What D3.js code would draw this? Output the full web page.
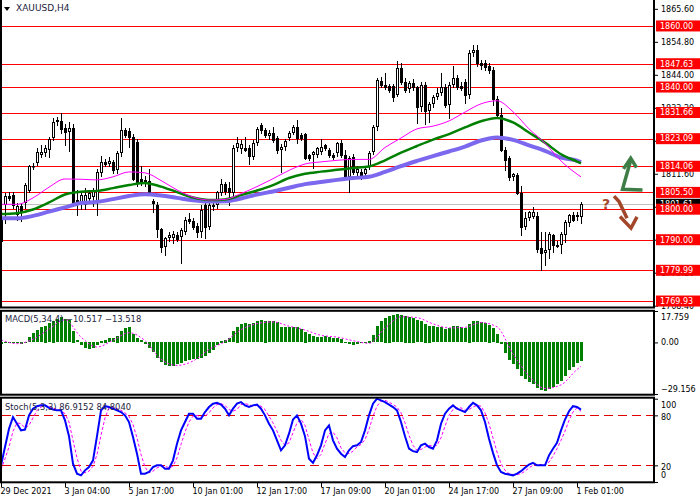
<html>
<head>
<meta charset="UTF-8"/>
<script src="https://d3js.org/d3.v7.min.js"></script>
<title>XAUUSD,H4</title>
<style>
body { margin: 0; background: #fff; }
svg text { font-family: 'DejaVu Sans', 'Liberation Sans', sans-serif; }
</style>
</head>
<body>
<svg id='big' width=700 height=500></svg>
<script>
'use strict';

// H4 candles, 29 Dec 2021 .. 1 Feb 2022
var opens = [1796.5,1801.4,1804.3,1804.6,1798.0,1801.0,1801.9,1806.0,1813.8,1815.2,
1817.7,1818.3,1819.5,1823.2,1828.6,1829.0,1826.6,1825.3,1826.6,1803.0,
1802.0,1801.5,1803.5,1804.0,1802.5,1811.7,1815.5,1814.8,1815.5,1812.8,
1818.3,1825.9,1825.5,1823.5,1822.0,1810.0,1809.5,1809.3,1802.6,1801.4,
1793.4,1787.5,1790.5,1790.5,1791.5,1791.0,1792.6,1796.8,1796.0,1794.5,
1792.6,1801.3,1794.1,1800.8,1801.3,1805.4,1808.2,1806.8,1805.4,1820.0,
1819.6,1820.0,1820.0,1817.2,1821.6,1827.6,1825.9,1824.0,1825.0,1823.2,
1819.4,1820.5,1823.2,1825.0,1827.0,1824.3,1824.5,1817.7,1817.7,1817.7,
1818.8,1821.0,1819.4,1817.7,1818.3,1821.6,1817.7,1810.6,1817.2,1811.7,
1812.3,1811.5,1813.9,1818.8,1827.0,1842.1,1840.7,1840.3,1840.3,1837.4,
1846.1,1841.7,1839.3,1841.2,1840.0,1833.6,1840.7,1832.0,1834.5,1836.8,
1838.0,1840.1,1834.1,1840.7,1842.9,1840.5,1841.7,1837.4,1851.0,1852.1,
1847.8,1847.8,1846.8,1845.6,1836.0,1831.0,1819.4,1816.8,1810.6,1811.2,
1805.3,1794.3,1797.1,1797.4,1797.8,1787.3,1785.7,1786.6,1791.5,1788.3,
1788.3,1791.5,1795.4,1798.1,1797.4,1797.6];
var highs = [1798.5,1805.3,1805.5,1805.5,1802.0,1802.0,1808.5,1814.5,1815.0,1820.0,
1821.0,1821.0,1823.5,1830.0,1830.3,1831.6,1828.0,1828.5,1828.0,1806.3,
1805.5,1807.0,1806.0,1807.0,1813.0,1817.5,1816.5,1817.0,1816.0,1819.0,
1829.8,1826.6,1826.5,1824.5,1823.0,1814.0,1811.0,1813.0,1803.5,1802.5,
1794.0,1791.0,1792.5,1793.0,1792.5,1794.0,1797.5,1798.7,1797.0,1795.5,
1801.3,1802.0,1802.0,1802.0,1806.0,1809.8,1809.0,1809.0,1821.0,1823.5,
1822.5,1823.5,1821.0,1822.5,1826.8,1828.3,1826.5,1826.0,1827.0,1824.0,
1821.5,1823.0,1825.5,1827.5,1829.2,1825.0,1825.0,1818.0,1819.0,1820.5,
1823.0,1821.5,1820.0,1818.5,1822.0,1822.5,1819.4,1817.5,1818.0,1814.0,
1813.0,1813.5,1819.0,1827.5,1843.0,1843.3,1844.5,1841.0,1841.0,1848.4,
1847.9,1843.0,1842.0,1842.5,1840.5,1841.5,1841.5,1835.0,1837.5,1839.7,
1844.6,1841.0,1841.5,1847.0,1844.0,1841.5,1842.5,1852.0,1853.8,1853.8,
1849.0,1849.0,1848.0,1846.5,1837.0,1833.0,1820.5,1817.5,1812.0,1812.0,
1807.6,1799.2,1799.5,1800.8,1799.2,1792.6,1792.6,1792.6,1792.0,1789.5,
1792.5,1796.5,1798.5,1799.0,1799.2,1802.4];
var lows = [1788.5,1795.6,1803.0,1800.4,1796.5,1796.0,1800.5,1805.5,1813.0,1814.5,
1817.0,1817.5,1817.0,1822.5,1827.5,1825.0,1821.0,1819.0,1801.0,1798.0,
1800.0,1800.0,1802.5,1801.0,1798.0,1811.0,1814.0,1814.0,1812.0,1812.0,
1817.5,1823.5,1820.5,1809.5,1807.5,1808.0,1807.5,1804.5,1799.0,1791.0,
1786.0,1785.0,1789.5,1788.8,1789.5,1782.5,1792.0,1795.5,1793.5,1791.0,
1791.0,1790.5,1793.5,1799.7,1800.5,1804.5,1805.0,1801.3,1804.5,1819.0,
1818.5,1819.0,1814.8,1816.5,1821.0,1825.0,1823.5,1823.0,1822.0,1818.3,
1812.3,1819.5,1822.5,1824.5,1821.6,1822.5,1816.5,1816.0,1813.4,1817.0,
1818.0,1819.5,1817.0,1816.5,1817.5,1817.0,1810.0,1805.7,1811.5,1811.0,
1810.0,1810.5,1813.0,1818.0,1826.0,1840.0,1839.5,1838.5,1835.5,1837.0,
1841.0,1838.5,1838.5,1839.0,1828.3,1832.0,1828.0,1828.5,1833.5,1836.0,
1837.5,1833.5,1829.8,1840.0,1839.5,1839.0,1834.8,1836.5,1850.0,1847.0,
1846.0,1845.5,1844.5,1834.0,1830.0,1819.0,1812.8,1809.6,1809.5,1805.0,
1791.6,1793.5,1796.5,1797.0,1786.0,1780.0,1781.7,1784.0,1786.0,1787.5,
1785.5,1789.3,1794.5,1796.0,1796.5,1795.4];
var closes = [1789.5,1804.3,1803.8,1801.4,1801.0,1799.5,1808.0,1814.1,1814.2,1818.8,
1818.8,1820.0,1823.0,1828.6,1829.2,1826.2,1825.3,1826.6,1802.5,1802.0,
1804.6,1804.6,1805.3,1806.0,1812.3,1815.5,1814.8,1815.8,1812.8,1818.3,
1825.9,1824.3,1823.8,1810.0,1808.5,1808.8,1808.5,1805.3,1802.0,1793.4,
1787.5,1790.5,1791.5,1792.0,1790.2,1793.2,1796.5,1796.2,1794.1,1792.6,
1799.7,1794.3,1801.3,1801.3,1805.5,1808.2,1806.0,1805.7,1820.0,1821.6,
1821.3,1819.4,1817.4,1821.6,1826.2,1825.9,1824.3,1825.0,1822.7,1819.4,
1820.5,1822.4,1825.0,1827.0,1823.2,1823.2,1816.7,1816.7,1818.8,1820.0,
1820.5,1820.0,1817.7,1817.2,1821.6,1817.7,1810.6,1816.7,1812.3,1813.3,
1811.2,1813.0,1818.3,1827.0,1842.3,1840.7,1840.1,1839.0,1836.8,1846.1,
1841.7,1839.0,1841.2,1839.9,1833.5,1840.7,1832.0,1834.5,1836.8,1837.9,
1840.1,1834.1,1840.7,1842.9,1840.1,1839.6,1837.4,1851.0,1852.1,1847.8,
1847.2,1846.5,1845.6,1836.0,1831.0,1819.4,1816.1,1810.6,1811.5,1805.3,
1794.3,1797.1,1799.1,1799.2,1786.9,1785.7,1786.6,1791.9,1788.3,1788.0,
1791.9,1795.9,1798.1,1796.5,1798.1,1801.7];

// moving averages, read every 4th bar
var maBars = [0,4,8,12,16,20,24,28,32,36,40,44,48,52,56,60,64,68,72,76,
80,84,88,92,96,100,104,108,112,116,120,124,128,132,136,140,144,145];
var maFast = [1801.6,1801.6,1803.7,1807.2,1809.9,1809.8,1809.6,1810.6,1812.2,1811.9,
1809.4,1806.3,1804.0,1803.0,1803.2,1805.1,1807.4,1810.0,1812.7,1814.8,
1815.5,1816.0,1816.3,1816.3,1820.2,1823.3,1826.3,1827.2,1828.9,1831.8,
1834.5,1835.5,1831.9,1826.3,1821.6,1815.8,1811.5,1810.6];
var maMid = [1798.4,1798.7,1799.9,1802.2,1804.8,1805.7,1806.0,1806.9,1807.9,1808.6,
1807.4,1805.6,1803.8,1803.0,1803.2,1804.6,1806.1,1807.9,1810.2,1811.6,
1812.3,1812.9,1813.5,1814.0,1816.0,1818.5,1820.7,1822.8,1824.6,1826.8,
1828.8,1829.9,1828.4,1825.1,1821.8,1818.0,1815.6,1815.0];
var maSlow = [1797.0,1797.0,1797.8,1799.2,1800.6,1802.0,1802.4,1803.3,1804.3,1804.9,
1804.5,1803.7,1802.9,1802.5,1802.6,1803.5,1804.8,1805.8,1807.0,1808.2,
1808.9,1809.6,1810.2,1810.6,1812.2,1814.1,1815.8,1817.4,1818.9,1820.5,
1822.5,1823.5,1822.7,1820.9,1819.1,1816.9,1815.9,1815.4];

var levels = [1860.00,1847.63,1840.00,1831.66,1823.09,1814.06,1805.50,1800.00,1790.00,1779.99,1769.93];
var lastPrice = 1801.61;
var priceTicks = [1865.60,1854.80,1844.00,1833.20,1822.40,1811.60,1800.80,1790.00,1779.20,1768.40];

var macdHist = [-1.3,-0.5,0.2,-0.3,-0.8,-1.0,-0.5,
2.8,5.1,7.0,8.5,9.4,10.7,12.2,13.2,14.1,13.2,12.6,6.6,1.3,
-1.9,-3.2,-3.8,-3.2,-1.9,0.9,1.5,2.3,2.4,3.8,6.2,8.1,8.5,4.7,2.3,1.3,
-0.9,-3.2,-5.6,-8.9,-11.3,-13.2,-13.6,-13.6,-12.6,-11.9,-10.7,-10.0,-9.4,-9.4,-8.9,-8.1,-6.2,-4.7,-1.9,
0.9,1.5,2.4,6.2,8.9,10.4,10.7,10.4,10.7,11.9,12.6,12.2,11.9,11.9,11.3,8.5,8.5,8.5,8.5,8.5,
7.5,6,4.5,3.5,3,3,3.5,3,2.5,2.5,2,0.5,-1,-1.5,-1,-0.5,0,
1,4,9,12,14,15,15.5,16,15.5,15,14.5,14,12.5,12,
10.5,9.5,9,8.5,8.5,7.5,8,9,9,8.5,8,10.5,12,12,11.5,11,10,8,5,
-1,-6,-10,-12.5,-15,-19,-21,-22.5,-24,-26,-27,-27.5,-26.5,-25.5,-24,-22,-19,-16,-14,-12,-10.517];
var macdSignal = [1.5,-0.7,1.8,7.5,12.8,3.0,-2.6,1.2,5.5,1.0,
-9.5,-13.0,-10.5,-4.0,0.5,7.2,10.6,11.6,9.2,7.0,
4.0,3.0,1.0,-0.5,8.0,14.5,14.0,10.5,8.2,8.5,
11.2,8.8,-6.5,-19.0,-26.0,-24.0,-15.3,-13.518];
var macdTicks = [17.759, 0, -29.156];

var stochK = [20,42,64,78,70,62,63,80,88,91,
92,92,89,87,86,86,74,55,22,10,
8,14,18,26,55,86,91,90,88,86,
84,80,72,54,34,10,10,12,18,20,
20,16,16,26,46,62,72,82,82,76,
76,84,90,94,95,93,88,80,88,94,
96,92,90,92,93,88,80,70,62,50,
38,44,58,75,80,70,55,28,23,32,
44,62,68,50,40,34,30,38,43,44,
48,62,80,94,100,98,96,93,90,86,
72,55,40,37,36,44,46,42,40,50,
70,82,88,92,88,86,84,90,95,92,
86,72,52,35,20,12,10,9,8,10,
13,17,21,23,20,20,20,32,40,47,
62,75,85,91,90,86.9152];
var stochD = [15,28,42,61,71,70,65,68,77,86,
90,92,91,89,87,86,82,72,50,29,
13,11,13,19,33,56,77,89,90,88,
86,83,79,69,53,33,18,11,13,17,
19,19,17,19,29,45,60,72,79,80,
78,79,83,89,93,94,92,87,85,87,
93,94,93,91,92,91,87,79,71,61,
50,44,47,59,71,75,68,51,35,28,
33,46,58,60,53,41,35,34,37,42,
45,51,63,79,91,97,98,96,93,90,
83,71,56,44,38,39,42,44,43,44,
53,67,80,87,89,89,86,87,90,92,
91,83,70,53,36,22,14,10,9,9,
10,13,17,20,21,21,20,24,31,40,
50,61,74,84,89,84.804];
var stochTicks = [100, 80, 20, 0];
var stochLevels = [80, 20];

var timeBars = [0,16,32,48,64,80,96,112,128,144];
var timeLabels = ['29 Dec 2021','3 Jan 04:00','5 Jan 17:00','10 Jan 01:00','12 Jan 17:00',
'17 Jan 09:00','20 Jan 01:00','24 Jan 17:00','27 Jan 09:00','1 Feb 01:00'];


var svg = d3.select('#big');
var frameR = 654;

var sx = d3.scaleLinear().domain([0, opens.length - 1]).range([1, 581]);
var sy = d3.scaleLinear().domain([1768.3, 1868.5]).range([306, 0]);
var sm = d3.scaleLinear().domain([-29.156, 17.759]).range([394, 311]);
var ss = d3.scaleLinear().domain([0, 100]).range([482, 398.7]);

function cx(i){ return Math.round(sx(i)) + 0.5; }
function crisp(v){ return Math.round(v) + 0.5; }

function drawLevels(){
	svg.selectAll('.level')
	.data(levels)
	.enter()
	.append('line')
	.attr('class', 'level')
	.attr('x1', 0).attr('x2', frameR)
	.attr('y1', function(d){ return crisp(sy(d)); })
	.attr('y2', function(d){ return crisp(sy(d)); })
	.attr('stroke', '#ff0000');

	svg.append('line')
	.attr('x1', 0).attr('x2', frameR)
	.attr('y1', crisp(sy(lastPrice))).attr('y2', crisp(sy(lastPrice)))
	.attr('stroke', '#c0c0c0');
}

function drawCandles(){
	var bars = d3.range(opens.length);
	var g = svg.append('g').attr('class', 'candles');

	g.selectAll('.wick')
	.data(bars)
	.enter()
	.append('line')
	.attr('x1', cx).attr('x2', cx)
	.attr('y1', function(i){ return Math.round(sy(highs[i])); })
	.attr('y2', function(i){ return Math.round(sy(lows[i])) + 1; })
	.attr('stroke', '#000');

	g.selectAll('.body')
	.data(bars)
	.enter()
	.append('rect')
	.each(function(i){
		var up = closes[i] >= opens[i];
		var top = Math.round(sy(Math.max(opens[i], closes[i])));
		var bot = Math.round(sy(Math.min(opens[i], closes[i])));
		var h = Math.max(1, bot - top);
		var r = d3.select(this);
		if(up){
			r.attr('x', cx(i) - 1).attr('width', 2)
			.attr('y', top + 0.5).attr('height', Math.max(h - 1, 0.5))
			.attr('fill', '#fff').attr('stroke', '#000');
		}else{
			r.attr('x', cx(i) - 1.5).attr('width', 3)
			.attr('y', top).attr('height', h + 1)
			.attr('fill', '#000');
		}
	});
}

function drawMA(values, color, width){
	var line = d3.line()
	.x(function(d, k){ return sx(maBars[k]); })
	.y(function(d){ return sy(d); })
	.curve(d3.curveMonotoneX);

	svg.append('path')
	.datum(values)
	.attr('d', line)
	.attr('fill', 'none')
	.attr('stroke', color)
	.attr('stroke-width', width);
}

function drawMacd(){
	var zero = sm(0);
	svg.append('g')
	.selectAll('rect')
	.data(macdHist)
	.enter()
	.append('rect')
	.attr('x', function(d, i){ return cx(i) - 1.5; })
	.attr('width', 3)
	.attr('y', function(d){ return Math.round(Math.min(sm(d), zero)); })
	.attr('height', function(d){ return Math.max(1, Math.round(Math.abs(sm(d) - zero))); })
	.attr('fill', '#008000');

	var line = d3.line()
	.x(function(d, k){ return sx(maBars[k]); })
	.y(function(d){ return sm(d); })
	.curve(d3.curveMonotoneX);

	svg.append('path')
	.datum(macdSignal)
	.attr('d', line)
	.attr('fill', 'none')
	.attr('stroke', '#ff00ff')
	.attr('stroke-dasharray', '2,2');
}

function drawStoch(){
	svg.selectAll('.slevel')
	.data(stochLevels)
	.enter()
	.append('line')
	.attr('x1', 2).attr('x2', frameR)
	.attr('y1', function(d){ return crisp(ss(d)); })
	.attr('y2', function(d){ return crisp(ss(d)); })
	.attr('stroke', '#e00000')
	.attr('stroke-dasharray', '9,5');

	var line = d3.line()
	.x(function(d, i){ return sx(i); })
	.y(function(d){ return ss(d); });

	svg.append('path')
	.datum(stochD)
	.attr('d', line)
	.attr('fill', 'none')
	.attr('stroke', '#ff00ff')
	.attr('stroke-dasharray', '3,2');

	svg.append('path')
	.datum(stochK)
	.attr('d', line)
	.attr('fill', 'none')
	.attr('stroke', '#0000ff')
	.attr('stroke-width', 2);
}

function drawFrames(){
	var frames = [[-2, 307.5], [310.8, 394.7], [397.7, 482.3]];
	svg.selectAll('.frame')
	.data(frames)
	.enter()
	.append('rect')
	.attr('x', 1)
	.attr('y', function(d){ return d[0]; })
	.attr('width', frameR - 1)
	.attr('height', function(d){ return d[1] - d[0]; })
	.attr('fill', 'none')
	.attr('stroke', '#000')
	.attr('stroke-width', 2);
}

function drawAxes(){
	// price scale on the right
	var ay = d3.axisRight(sy)
	.tickValues(priceTicks)
	.tickSize(3)
	.tickPadding(3)
	.tickFormat(d3.format('.2f'));
	svg.append('g')
	.attr('transform', 'translate(' + (frameR + 1) + ',0)')
	.call(ay)
	.call(function(g){ g.select('.domain').remove(); })
	.selectAll('text')
	.attr('font-size', 8)
	.attr('fill', '#000');

	// current price tag (mostly hidden behind the level tags)
	var lp = svg.append('g').attr('transform', 'translate(656,' + sy(lastPrice) + ')');
	lp.append('rect').attr('x', 0).attr('y', -5.5).attr('width', 44).attr('height', 11).attr('fill', '#000');
	lp.append('text').attr('x', 4).attr('dy', '0.35em').attr('font-size', 8).attr('fill', '#fff')
	.text(d3.format('.2f')(lastPrice));

	var tags = svg.selectAll('.tag')
	.data(levels)
	.enter()
	.append('g')
	.attr('class', 'tag')
	.attr('transform', function(d){ return 'translate(656,' + sy(d) + ')'; });
	tags.append('rect')
	.attr('x', 0).attr('y', -5.5)
	.attr('width', 44).attr('height', 11)
	.attr('fill', '#ff0000');
	tags.append('text')
	.attr('x', 4).attr('dy', '0.35em')
	.attr('font-size', 8)
	.attr('fill', '#fff')
	.text(function(d){ return d3.format('.2f')(d); });

	// MACD scale
	var am = d3.axisRight(sm)
	.tickValues(macdTicks)
	.tickSize(3)
	.tickFormat(function(d){ return d === 0 ? '0.00' : d3.format('.3f')(d); });
	svg.append('g')
	.attr('transform', 'translate(' + (frameR + 1) + ',0)')
	.call(am)
	.call(function(g){ g.select('.domain').remove(); })
	.selectAll('text')
	.attr('font-size', 8)
	.attr('fill', '#000')
	.attr('y', function(d){ return d > 0 ? 6 : (d < 0 ? -5 : 0); });

	// Stochastic scale
	var as = d3.axisRight(ss)
	.tickValues(stochTicks)
	.tickSize(3)
	.tickFormat(d3.format('d'));
	svg.append('g')
	.attr('transform', 'translate(' + (frameR + 1) + ',0)')
	.call(as)
	.call(function(g){ g.select('.domain').remove(); })
	.selectAll('text')
	.attr('font-size', 8)
	.attr('fill', '#000')
	.attr('y', function(d){ return d === 100 ? 6 : (d === 0 ? -7 : 2); });

	// time scale
	var ax = d3.axisBottom(sx)
	.tickValues(timeBars)
	.tickSize(4)
	.tickFormat(function(d, k){ return timeLabels[k]; });
	svg.append('g')
	.attr('transform', 'translate(0,483)')
	.call(ax)
	.call(function(g){ g.select('.domain').remove(); })
	.selectAll('text')
	.attr('font-size', 8)
	.attr('fill', '#000')
	.attr('text-anchor', 'start')
	.attr('x', -1)
	.attr('y', 5);
}

function drawLabels(){
	svg.append('path')
	.attr('d', 'M4,7 L10,7 L7,11 Z')
	.attr('fill', '#000');
	svg.append('text')
	.attr('x', 16).attr('y', 8).attr('dy', '0.35em')
	.attr('font-size', 9).attr('fill', '#1d2440')
	.text('XAUUSD,H4');

	svg.append('text')
	.attr('x', 5).attr('y', 319).attr('dy', '0.35em')
	.attr('font-size', 8.4).attr('fill', '#1d2440')
	.text('MACD(5,34,4) ' + d3.format('.3f')(macdHist[macdHist.length - 1]) + ' ' +
		d3.format('.3f')(macdSignal[macdSignal.length - 1]));

	svg.append('text')
	.attr('x', 5).attr('y', 407).attr('dy', '0.35em')
	.attr('font-size', 8.4).attr('fill', '#1d2440')
	.text('Stoch(5,3,3) ' + d3.format('.4f')(stochK[stochK.length - 1]) + ' ' +
		d3.format('.4f')(stochD[stochD.length - 1]));
}

function drawSignals(){
	// forecast marks at the right edge
	var up = svg.append('g')
	.attr('fill', 'none')
	.attr('stroke', '#3e7d46')
	.attr('stroke-width', 3.5)
	.attr('stroke-linejoin', 'miter');
	up.append('polyline').attr('points', [[642.5, sy(1806.3)], [622.5, sy(1806.5)], [630.5, sy(1815.8)]].join(' '));
	up.append('polyline').attr('points', [[623.5, sy(1813.2)], [630.7, sy(1816.7)], [636.5, sy(1813.6)]].join(' '));

	var dn = svg.append('g')
	.attr('fill', 'none')
	.attr('stroke', '#a3472a')
	.attr('stroke-width', 3.5);
	dn.append('polyline').attr('points', [[614, sy(1804.3)], [619, sy(1802.5)], [627, sy(1797.0)]].join(' '));
	dn.append('polyline').attr('points', [[620, sy(1797.6)], [631, sy(1793.8)], [637, sy(1797.5)]].join(' '));
	svg.append('text')
	.attr('x', 602).attr('y', 209)
	.attr('font-size', 14).attr('font-weight', 'bold')
	.attr('fill', '#a3472a')
	.text('?');
}

function main(){
	drawLevels();
	drawCandles();
	drawMA(maSlow, '#7b68ee', 4);
	drawMA(maMid, '#008000', 2.5);
	drawMA(maFast, '#ff00ff', 1);
	drawMacd();
	drawStoch();
	drawFrames();
	drawAxes();
	drawLabels();
	drawSignals();
}

main();

</script>
</body>
</html>
